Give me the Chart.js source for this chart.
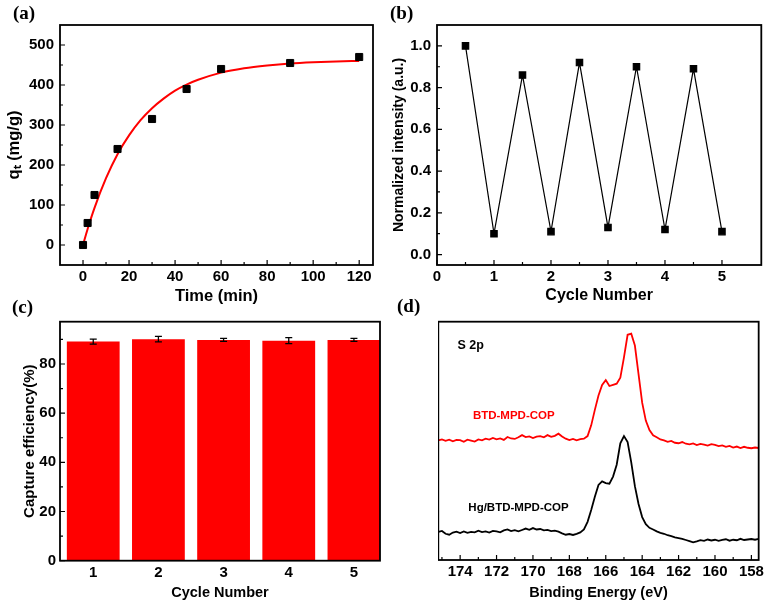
<!DOCTYPE html>
<html>
<head>
<meta charset="utf-8">
<script src="https://cdn.jsdelivr.net/npm/chart.js@4.4.0/dist/chart.umd.min.js"></script>
<style>
  body { margin: 0; background: #fff; }
  #wrap { position: relative; width: 767px; height: 604px; overflow: hidden; background: #fff; }
  canvas { position: absolute; }
  .tag { position: absolute; font: bold 19px "Liberation Serif", "Times New Roman", serif; line-height: 1; color: #000; }
</style>
</head>
<body>
<div id="wrap">
  <canvas id="chartA" width="378" height="306" style="left:5px;top:0px"></canvas>
  <canvas id="chartB" width="376" height="305" style="left:391px;top:0px"></canvas>
  <canvas id="chartC" width="365" height="302" style="left:21px;top:300px"></canvas>
  <canvas id="chartD" width="329" height="302" style="left:438px;top:300px"></canvas>
  <div class="tag" style="left:13px;top:3px">(a)</div>
  <div class="tag" style="left:390px;top:3px">(b)</div>
  <div class="tag" style="left:12px;top:297px">(c)</div>
  <div class="tag" style="left:397px;top:296px">(d)</div>
</div>
<script>
// (a) adsorption kinetics
const time = [0, 2, 5, 15, 30, 45, 60, 90, 120];
const qt = [0, 55, 125, 240, 315, 390, 440, 455, 470];
const fitTime = [0, 2, 5, 10, 15, 20, 25, 30, 35, 40, 45, 50, 60, 70, 80, 90, 100, 110, 120];
const fitQt = [0, 40, 93, 167, 227, 274, 312, 342, 366, 386, 401, 413, 431, 442, 449, 454, 457, 459, 460];
const timeTicks = [0, 20, 40, 60, 80, 100, 120];
const timeMinor = [10, 30, 50, 70, 90, 110];
const qtTicks = [0, 100, 200, 300, 400, 500];
const qtMinor = [50, 150, 250, 350, 450];

// (b) cycling
const cycleX = [0.5, 1, 1.5, 2, 2.5, 3, 3.5, 4, 4.5, 5];
const intensity = [1.0, 0.10, 0.86, 0.11, 0.92, 0.13, 0.90, 0.12, 0.89, 0.11];
const cycleTicks = [0, 1, 2, 3, 4, 5];
const cycleMinor = [0.5, 1.5, 2.5, 3.5, 4.5];
const intensityTicks = [0, 0.2, 0.4, 0.6, 0.8, 1.0];
const intensityMinor = [0.1, 0.3, 0.5, 0.7, 0.9];

// (c) capture efficiency
const cycles = [1, 2, 3, 4, 5];
const efficiency = [89.1, 90.1, 89.8, 89.5, 89.8];
const efficiencyErr = [1.0, 1.1, 0.6, 1.2, 0.6];
const effTicks = [0, 20, 40, 60, 80];
const effMinor = [10, 30, 50, 70, 90];

// (d) XPS S 2p
const energy = [175.2, 175.0, 174.8, 174.6, 174.4, 174.2, 174.0, 173.8, 173.6, 173.4, 173.2, 173.0,
  172.8, 172.6, 172.4, 172.2, 172.0, 171.8, 171.6, 171.4, 171.2, 171.0, 170.8, 170.6, 170.4, 170.2,
  170.0, 169.8, 169.6, 169.4, 169.2, 169.0, 168.8, 168.6, 168.4, 168.2, 168.0, 167.8, 167.6, 167.4,
  167.2, 167.0, 166.8, 166.6, 166.4, 166.2, 166.0, 165.8, 165.6, 165.4, 165.2, 165.0, 164.8, 164.6,
  164.4, 164.2, 164.0, 163.8, 163.6, 163.4, 163.2, 163.0, 162.8, 162.6, 162.4, 162.2, 162.0, 161.8,
  161.6, 161.4, 161.2, 161.0, 160.8, 160.6, 160.4, 160.2, 160.0, 159.8, 159.6, 159.4, 159.2, 159.0,
  158.8, 158.6, 158.4, 158.2, 158.0, 157.8, 157.6];
const pristine = [50.2, 50.6, 50.0, 50.5, 49.8, 50.4, 50.3, 49.6, 50.5, 50.1, 49.7, 50.6,
  50.2, 50.9, 50.5, 51.2, 50.6, 51.0, 50.4, 51.6, 51.0, 50.8, 51.5, 52.4, 51.6, 51.9,
  51.2, 51.8, 52.0, 51.5, 52.4, 51.7, 52.1, 53.0, 51.8, 50.9, 50.3, 50.8, 50.2, 50.7,
  50.9, 52.0, 56.5, 63.0, 69.0, 73.5, 75.5, 73.0, 73.5, 74.0, 76.5, 85.0, 94.5, 95.0,
  90.0, 78.0, 66.0, 58.5, 54.5, 52.3, 51.5, 50.6, 50.2, 49.6, 50.0, 49.2, 49.0, 49.5,
  48.8, 48.5, 48.9, 48.2, 48.7, 48.4, 48.0, 48.6, 48.3, 47.8, 48.1, 47.5, 47.9, 47.2,
  47.6, 47.0, 47.5, 47.1, 46.9, 47.2, 47.0];
const loaded = [11.8, 12.2, 11.0, 10.6, 11.5, 11.9, 11.3, 12.0, 11.4, 11.8, 11.6, 12.3,
  11.7, 12.0, 11.5, 12.2, 12.0, 11.6, 12.4, 12.8, 12.1, 12.5, 12.0, 12.6, 13.2, 12.7,
  13.4, 12.8, 13.0, 12.4, 12.6, 12.1, 12.3, 11.9, 11.2, 10.6, 10.9, 10.5, 11.0, 11.6,
  12.8, 16.0, 21.0, 26.5, 31.5, 33.0, 32.3, 32.0, 35.0, 40.0, 49.0, 52.0, 49.5, 41.0,
  31.0, 23.5, 18.0, 15.0, 13.5, 12.8, 12.0, 11.4, 11.0, 10.4, 10.0, 9.5, 9.2, 8.9,
  8.4, 7.9, 7.4, 7.8, 8.3, 8.0, 8.6, 8.2, 8.5, 8.0, 8.4, 8.7, 8.1, 8.5,
  8.3, 8.9, 8.4, 8.6, 8.8, 8.5, 8.9];
const energyTicks = [174, 172, 170, 168, 166, 164, 162, 160, 158];
const energyMinor = [175, 173, 171, 169, 167, 165, 163, 161, 159];

Chart.defaults.font.family = '"Liberation Sans", Arial, sans-serif';
Chart.defaults.color = '#000';
Chart.defaults.animation = false;
Chart.defaults.plugins.legend.display = false;
Chart.defaults.plugins.tooltip.enabled = false;

// box around the plot plus inward Origin-style ticks
const frame = {
  id: 'frame',
  afterDatasetsDraw(chart, args, opts) {
    const { ctx, chartArea: a, scales: { x, y } } = chart;
    ctx.save();
    ctx.strokeStyle = '#000';
    ctx.lineWidth = 1.2;
    ctx.beginPath();
    (opts.xMajor || []).forEach(v => { const p = x.getPixelForValue(v); ctx.moveTo(p, a.bottom); ctx.lineTo(p, a.bottom - 5); });
    (opts.xMinor || []).forEach(v => { const p = x.getPixelForValue(v); ctx.moveTo(p, a.bottom); ctx.lineTo(p, a.bottom - 3); });
    (opts.yMajor || []).forEach(v => { const p = y.getPixelForValue(v); ctx.moveTo(a.left, p); ctx.lineTo(a.left + 5, p); });
    (opts.yMinor || []).forEach(v => { const p = y.getPixelForValue(v); ctx.moveTo(a.left, p); ctx.lineTo(a.left + 3, p); });
    ctx.stroke();
    ctx.lineWidth = 1.8;
    ctx.strokeRect(a.left, a.top, a.right - a.left, a.bottom - a.top);
    ctx.restore();
  }
};

const errorBars = {
  id: 'errorBars',
  afterDatasetsDraw(chart) {
    const { ctx, scales: { y } } = chart;
    ctx.save();
    ctx.strokeStyle = '#000';
    ctx.lineWidth = 1.3;
    chart.getDatasetMeta(0).data.forEach((bar, i) => {
      const top = y.getPixelForValue(efficiency[i] + efficiencyErr[i]);
      const bot = y.getPixelForValue(efficiency[i] - efficiencyErr[i]);
      ctx.beginPath();
      ctx.moveTo(bar.x, top); ctx.lineTo(bar.x, bot);
      ctx.moveTo(bar.x - 3.5, top); ctx.lineTo(bar.x + 3.5, top);
      ctx.moveTo(bar.x - 3.5, bot); ctx.lineTo(bar.x + 3.5, bot);
      ctx.stroke();
    });
    ctx.restore();
  }
};

const notes = {
  id: 'notes',
  afterDatasetsDraw(chart, args, opts) {
    const { ctx, scales: { x, y } } = chart;
    ctx.save();
    ctx.textBaseline = 'middle';
    ctx.textAlign = 'left';
    (opts.items || []).forEach(n => {
      ctx.font = 'bold ' + n.size + 'px "Liberation Sans", Arial, sans-serif';
      ctx.fillStyle = n.color;
      ctx.fillText(n.text, x.getPixelForValue(n.x), y.getPixelForValue(n.y));
    });
    ctx.restore();
  }
};

const tickFont = { size: 15, weight: 'bold' };
const fixTicks = vals => s => { s.ticks = vals.map(v => ({ value: v })); };
const noGrid = { display: false, drawTicks: false };

new Chart(document.getElementById('chartA'), {
  type: 'scatter',
  data: {
    datasets: [
      {
        type: 'line',
        data: fitTime.map((t, i) => ({ x: t, y: fitQt[i] })),
        borderColor: '#ff0000',
        borderWidth: 2,
        pointRadius: 0,
        cubicInterpolationMode: 'monotone',
        order: 2
      },
      {
        data: time.map((t, i) => ({ x: t, y: qt[i] })),
        backgroundColor: '#000',
        borderColor: '#000',
        pointStyle: 'rect',
        pointRadius: 5,
        order: 1
      }
    ]
  },
  options: {
    responsive: false,
    layout: { padding: { top: 25, right: 10 } },
    plugins: { frame: { xMajor: timeTicks, xMinor: timeMinor, yMajor: qtTicks, yMinor: qtMinor } },
    scales: {
      x: {
        type: 'linear', min: -10, max: 126,
        grid: noGrid, border: { display: false },
        ticks: { font: tickFont, padding: 3 },
        afterBuildTicks: fixTicks(timeTicks),
        afterFit: s => { s.height = 41; },
        title: { display: true, text: 'Time (min)', font: { size: 16.5, weight: 'bold' }, padding: 0 }
      },
      y: {
        type: 'linear', min: -50, max: 550,
        grid: noGrid, border: { display: false },
        ticks: { font: tickFont, padding: 6 },
        afterBuildTicks: fixTicks(qtTicks),
        afterFit: s => { s.width = 55; },
        title: { display: true, text: 'qₜ (mg/g)', font: { size: 16.5, weight: 'bold' }, padding: 0 }
      }
    }
  },
  plugins: [frame]
});

new Chart(document.getElementById('chartB'), {
  type: 'line',
  data: {
    datasets: [{
      data: cycleX.map((c, i) => ({ x: c, y: intensity[i] })),
      borderColor: '#000',
      borderWidth: 1.2,
      backgroundColor: '#000',
      pointStyle: 'rect',
      pointRadius: 4.5,
      tension: 0
    }]
  },
  options: {
    responsive: false,
    layout: { padding: { top: 25, right: 4.3 } },
    plugins: { frame: { xMajor: cycleTicks, xMinor: cycleMinor, yMajor: intensityTicks, yMinor: intensityMinor } },
    scales: {
      x: {
        type: 'linear', min: 0, max: 5.69,
        grid: noGrid, border: { display: false },
        ticks: { font: tickFont, padding: 3 },
        afterBuildTicks: fixTicks(cycleTicks),
        afterFit: s => { s.height = 40; },
        title: { display: true, text: 'Cycle Number', font: { size: 16, weight: 'bold' }, padding: 0 }
      },
      y: {
        type: 'linear', min: -0.05, max: 1.10,
        grid: noGrid, border: { display: false },
        ticks: { font: tickFont, padding: 6, callback: v => v.toFixed(1) },
        afterBuildTicks: fixTicks(intensityTicks),
        afterFit: s => { s.width = 46; },
        title: { display: true, text: 'Normalized intensity (a.u.)', font: { size: 14, weight: 'bold' }, padding: 0 }
      }
    }
  },
  plugins: [frame]
});

new Chart(document.getElementById('chartC'), {
  type: 'bar',
  data: {
    datasets: [{
      data: cycles.map((c, i) => ({ x: c, y: efficiency[i] })),
      backgroundColor: '#ff0000',
      borderWidth: 0,
      barPercentage: 0.81,
      categoryPercentage: 1.0
    }]
  },
  options: {
    responsive: false,
    layout: { padding: { top: 21.7, right: 6 } },
    plugins: { frame: { yMajor: effTicks, yMinor: effMinor } },
    scales: {
      x: {
        type: 'linear', min: 0.49, max: 5.4, offset: false,
        grid: noGrid, border: { display: false },
        ticks: { font: tickFont, padding: 3 },
        afterBuildTicks: fixTicks(cycles),
        afterFit: s => { s.height = 41.3; },
        title: { display: true, text: 'Cycle Number', font: { size: 14.5, weight: 'bold' }, padding: 0 }
      },
      y: {
        type: 'linear', min: 0, max: 97.2,
        grid: noGrid, border: { display: false },
        ticks: { font: tickFont, padding: 4 },
        afterBuildTicks: fixTicks(effTicks),
        afterFit: s => { s.width = 39; },
        title: { display: true, text: 'Capture efficiency(%)', font: { size: 15, weight: 'bold' }, padding: 0 }
      }
    }
  },
  plugins: [errorBars, frame]
});

new Chart(document.getElementById('chartD'), {
  type: 'line',
  data: {
    datasets: [
      {
        data: energy.map((e, i) => ({ x: e, y: pristine[i] })),
        borderColor: '#ff0000',
        borderWidth: 1.8,
        pointRadius: 0,
        tension: 0
      },
      {
        data: energy.map((e, i) => ({ x: e, y: loaded[i] })),
        borderColor: '#000',
        borderWidth: 1.8,
        pointRadius: 0,
        tension: 0
      }
    ]
  },
  options: {
    responsive: false,
    layout: { padding: { top: 21.7, right: 4.3, left: 0.3 } },
    plugins: {
      frame: { xMajor: energyTicks, xMinor: energyMinor },
      notes: {
        items: [
          { text: 'S 2p', x: 174.15, y: 90.2, color: '#000', size: 12.5 },
          { text: 'BTD-MPD-COP', x: 173.3, y: 60.4, color: '#ff0000', size: 11.5 },
          { text: 'Hg/BTD-MPD-COP', x: 173.55, y: 21.8, color: '#000', size: 11.5 }
        ]
      }
    },
    scales: {
      x: {
        type: 'linear', min: 157.6, max: 175.2, reverse: true,
        grid: noGrid, border: { display: false },
        ticks: { font: tickFont, padding: 3 },
        afterBuildTicks: fixTicks(energyTicks),
        afterFit: s => { s.height = 42; },
        title: { display: true, text: 'Binding Energy (eV)', font: { size: 14.5, weight: 'bold' }, padding: 0 }
      },
      y: { type: 'linear', min: 0, max: 100, display: false }
    }
  },
  plugins: [notes, frame]
});
</script>
</body>
</html>
